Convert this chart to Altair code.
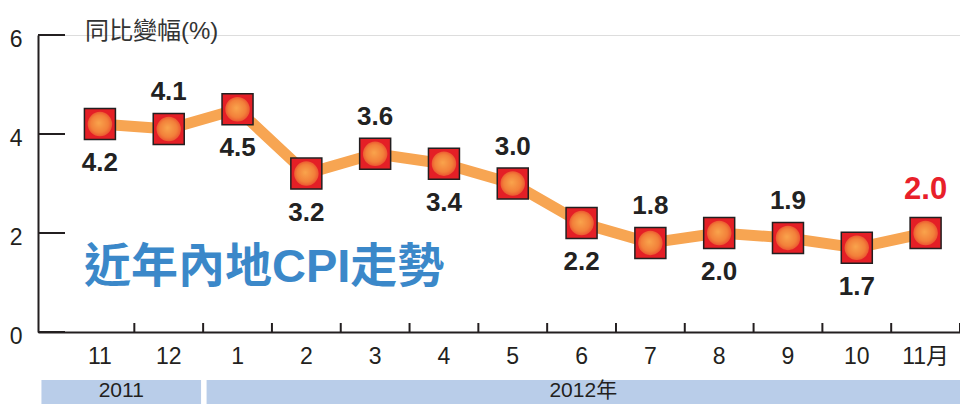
import altair as alt
import pandas as pd

# ---- data ----
MONTHS = ["11", "12", "1", "2", "3", "4", "5", "6", "7", "8", "9", "10", "11月"]
CPI = [4.2, 4.1, 4.5, 3.2, 3.6, 3.4, 3.0, 2.2, 1.8, 2.0, 1.9, 1.7, 2.0]
LABEL_ABOVE = [False, True, False, False, True, False, True, False, True, False, True, False, True]
YEARS = ["2011", "2012年"]
YEAR_FIRST = [0, 2]
YEAR_LAST = [1, 12]
Y_TICKS = [0, 2, 4, 6]
TITLE = "近年內地CPI走勢"
Y_TITLE = "同比變幅(%)"

FONT = "Liberation Sans, Noto Sans CJK TC"
INK = "#231f20"
X_MIN, X_MAX = -0.9, 12.5
W, H = 922, 297

n = len(CPI)
df = pd.DataFrame({
    "i": list(range(n)),
    "month": MONTHS,
    "cpi": CPI,
    "above": LABEL_ABOVE,
    "label": [f"{v:.1f}" for v in CPI],
    "last": [k == n - 1 for k in range(n)],
})
bounds = pd.DataFrame({"b": [k + 0.5 for k in range(n - 1)] + [X_MAX]})
yt = pd.DataFrame({"v": Y_TICKS})
years = pd.DataFrame({
    "year": YEARS,
    "x1": [(f - 0.5 if f > 0 else X_MIN) + 0.05 for f in YEAR_FIRST],
    "x2": [l + 0.5 - 0.03 if l < n - 1 else X_MAX for l in YEAR_LAST],
})
years["xc"] = (years["x1"] + years["x2"]) / 2

xs = alt.Scale(domain=[X_MIN, X_MAX], nice=False, zero=False)
ys = alt.Scale(domain=[0, 6], nice=False)

X = alt.X("i:Q", scale=xs, axis=alt.Axis(labels=False, ticks=False, grid=False, title=None,
                                        domainColor=INK, domainWidth=2))
Y = alt.Y("cpi:Q", scale=ys, axis=alt.Axis(values=Y_TICKS, ticks=False, grid=False, title=None,
                                          domainColor=INK, domainWidth=2, labelFont=FONT,
                                          labelFontSize=23, labelColor=INK, labelPadding=16,
                                          labelOffset=4))

base = alt.Chart(df)

line = base.mark_line(color="#f7a552", strokeWidth=11, strokeJoin="round").encode(x=X, y=Y)

squares = base.mark_point(shape="square", size=961, filled=True, fill="#e41f26",
                          stroke=INK, strokeWidth=1.5, opacity=1).encode(x=X, y=Y)

grad = {"gradient": "radial",
        "stops": [{"offset": 0, "color": "#f9a44c"},
                  {"offset": 0.65, "color": "#f2803a"},
                  {"offset": 1, "color": "#ea4a2d"}],
        "x1": 0.45, "y1": 0.45, "r1": 0, "x2": 0.5, "y2": 0.5, "r2": 0.55}
circles = base.mark_circle(size=600, fill=grad, opacity=1).encode(x=X, y=Y)

lab_below = base.transform_filter("!datum.above").mark_text(
    font=FONT, fontSize=26, fontWeight="bold", color="#222222", dy=39, baseline="middle"
).encode(x=X, y=Y, text="label:N")
lab_above = base.transform_filter("datum.above && !datum.last").mark_text(
    font=FONT, fontSize=26, fontWeight="bold", color="#222222", dy=-37, baseline="middle"
).encode(x=X, y=Y, text="label:N")
lab_last = base.transform_filter("datum.last").mark_text(
    font=FONT, fontSize=31, fontWeight="bold", color="#e8202a", dy=-43, baseline="middle"
).encode(x=X, y=Y, text="label:N")

xlabels = base.mark_text(font=FONT, fontSize=23, color=INK, baseline="middle").encode(
    x=X, y=alt.value(H + 25), text="month:N")

xticks = alt.Chart(bounds).mark_rule(color=INK, strokeWidth=2).encode(
    x=alt.X("b:Q", scale=xs), y=alt.value(H - 9), y2=alt.value(H))

yticks = alt.Chart(yt).mark_rule(color=INK, strokeWidth=2).encode(
    y=alt.Y("v:Q", scale=ys), x=alt.value(0), x2=alt.value(27))

bands = alt.Chart(years).mark_rect(color="#b9cde9").encode(
    x=alt.X("x1:Q", scale=xs), x2="x2:Q", y=alt.value(H + 48), y2=alt.value(H + 90))
band_text = alt.Chart(years).mark_text(font=FONT, fontSize=21, color=INK, baseline="middle").encode(
    x=alt.X("xc:Q", scale=xs), y=alt.value(H + 59), text="year:N")

ytitle = alt.Chart(pd.DataFrame({"t": [Y_TITLE]})).mark_text(
    font=FONT, fontSize=24, color="#333333", align="left", baseline="middle"
).encode(x=alt.value(47), y=alt.value(-3), text="t:N")

big_title = alt.Chart(pd.DataFrame({"t": [TITLE]})).mark_text(
    font=FONT, fontSize=47, fontWeight="bold", color="#3b88c9", align="left", baseline="middle"
).encode(x=alt.value(46), y=alt.value(233), text="t:N")

chart = alt.layer(
    bands, band_text, yticks, xticks, line, squares, circles,
    lab_below, lab_above, lab_last, xlabels, ytitle, big_title
).properties(
    width=W, height=H,
    autosize=alt.AutoSizeParams(type="none"),
    padding={"left": 30, "top": 27, "right": 0, "bottom": 72},
).configure_view(stroke=None).configure(background="white")

chart.save("out.html", embed_options={"renderer": "svg", "actions": False})
